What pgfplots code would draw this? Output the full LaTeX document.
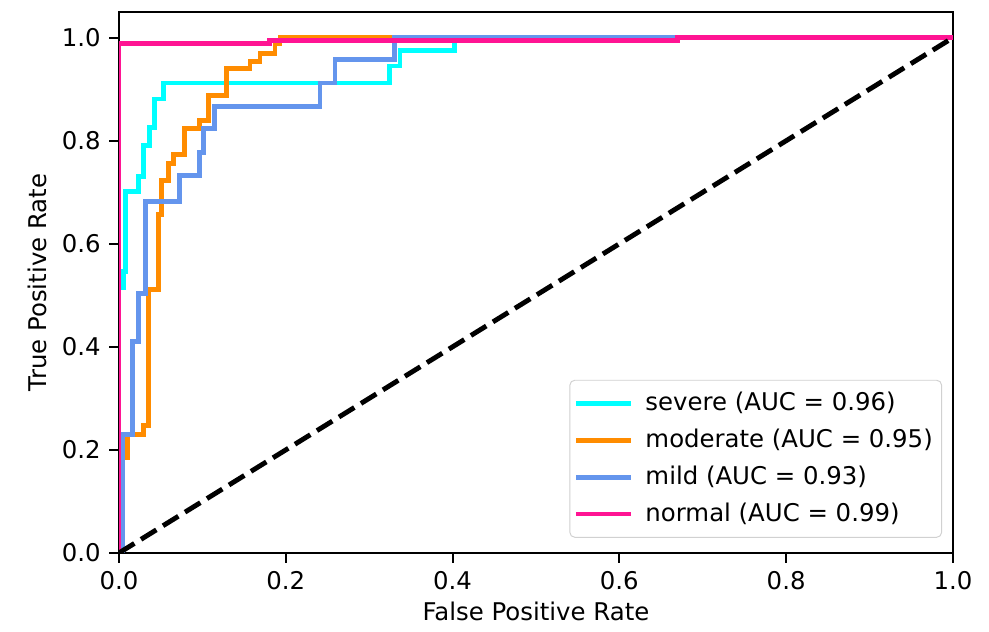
\documentclass[border=0pt]{standalone}
\usepackage{pgfplots}
\pgfplotsset{compat=1.18}
\usepackage{fontspec}
\setmainfont{DejaVu Sans}

\definecolor{cyanc}{RGB}{0,255,255}
\definecolor{darkorange}{RGB}{255,140,0}
\definecolor{cornflower}{RGB}{100,149,237}
\definecolor{deeppink}{RGB}{255,20,147}

\begin{document}
\begin{tikzpicture}
\begin{axis}[
  scale only axis,
  width=341.9pt, height=221.8pt,
  xmin=0, xmax=1, ymin=0, ymax=1.05,
  xtick={0,0.2,0.4,0.6,0.8,1},
  ytick={0,0.2,0.4,0.6,0.8,1},
  xtick pos=left, ytick pos=left,
  tick align=outside,
  major tick length=4pt,
  every tick/.style={black, line width=0.8pt},
  axis line style={line width=0.8pt},
  /pgf/number format/.cd, fixed, fixed zerofill, precision=1, assume math mode=true, /pgfplots/.cd,
  ticklabel style={font=\fontsize{10}{12}\selectfont},
  label style={font=\fontsize{10}{12}\selectfont},
  xlabel={False Positive Rate},
  ylabel={True Positive Rate},
  xlabel style={at={(axis description cs:0.5,-0.109)}, anchor=center},
  ylabel style={at={(axis description cs:-0.098,0.5)}, anchor=center},
  legend cell align=left,
  legend style={at={(0.987,0.028)}, anchor=south east,
    draw=black!18, rounded corners=2pt, fill=white,
    font=\fontsize{10}{12}\selectfont, row sep=2pt,
    inner xsep=1.6pt, inner ysep=3pt},
  legend image code/.code={\draw[#1] (0pt,0pt) -- (22.5pt,0pt); \path (25.4pt,0pt);},
  every axis plot/.append style={line width=2pt, line join=miter},
]
% severe
\addplot[cyanc] coordinates {(0,0) (0,0.515) (0.005,0.515) (0.005,0.546) (0.008,0.546) (0.008,0.702) (0.023,0.702) (0.023,0.731) (0.029,0.731) (0.029,0.79) (0.037,0.79) (0.037,0.826) (0.043,0.826) (0.043,0.881) (0.053,0.881) (0.053,0.912) (0.324,0.912) (0.324,0.945) (0.337,0.945) (0.337,0.975) (0.402,0.975) (0.402,1) (1,1)};
\addlegendentry{severe (AUC = 0.96)}
% moderate
\addplot[darkorange] coordinates {(0,0) (0,0.186) (0.01,0.186) (0.01,0.229) (0.029,0.229) (0.029,0.248) (0.035,0.248) (0.035,0.511) (0.047,0.511) (0.047,0.657) (0.051,0.657) (0.051,0.722) (0.059,0.722) (0.059,0.755) (0.065,0.755) (0.065,0.774) (0.079,0.774) (0.079,0.823) (0.097,0.823) (0.097,0.839) (0.107,0.839) (0.107,0.887) (0.129,0.887) (0.129,0.94) (0.157,0.94) (0.157,0.953) (0.169,0.953) (0.169,0.969) (0.187,0.969) (0.187,0.988) (0.193,0.988) (0.193,1) (1,1)};
\addlegendentry{moderate (AUC = 0.95)}
% mild
\addplot[cornflower] coordinates {(0,0) (0.004,0) (0.004,0.229) (0.016,0.229) (0.016,0.41) (0.023,0.41) (0.023,0.503) (0.032,0.503) (0.032,0.682) (0.073,0.682) (0.073,0.733) (0.097,0.733) (0.097,0.778) (0.101,0.778) (0.101,0.823) (0.115,0.823) (0.115,0.867) (0.241,0.867) (0.241,0.912) (0.259,0.912) (0.259,0.957) (0.33,0.957) (0.33,1) (1,1)};
\addlegendentry{mild (AUC = 0.93)}
% normal
\addplot[deeppink] coordinates {(0,0) (0,0.989) (0.18,0.989) (0.18,0.995) (0.67,0.995) (0.67,1) (1,1)};
\addlegendentry{normal (AUC = 0.99)}
% chance line
\addplot[black, dash pattern=on 7.4pt off 3.2pt, forget plot] coordinates {(0,0) (1,1)};
\end{axis}
\pgfresetboundingbox
\path ([shift={(-48.8pt,-32.4pt)}]current axis.south west) rectangle ([shift={(14.8pt,4.9pt)}]current axis.north east);
\end{tikzpicture}
\end{document}
